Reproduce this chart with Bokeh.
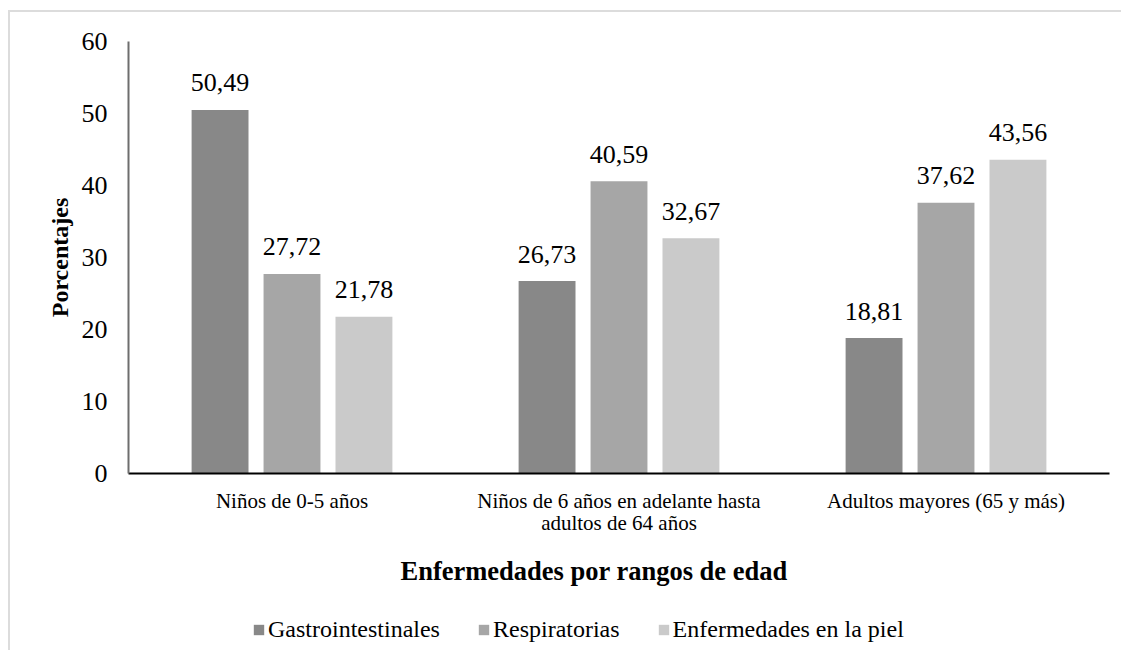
from bokeh.plotting import figure
from bokeh.layouts import column
from bokeh.models import (FactorRange, Range1d, SingleIntervalTicker, Legend, LegendItem,
                          ColumnDataSource, Title)
from bokeh.transform import dodge
from bokeh.core.properties import value
from bokeh.embed import file_html
from bokeh.resources import INLINE

categories = ["Niños de 0-5 años",
              "Niños de 6 años en adelante hasta\nadultos de 64 años",
              "Adultos mayores (65 y más)"]
series_names = ["Gastrointestinales", "Respiratorias", "Enfermedades en la piel"]
gastro = [50.49, 26.73, 18.81]
respir = [27.72, 40.59, 37.62]
piel = [21.78, 32.67, 43.56]
colors = ["#888888", "#a6a6a6", "#cacaca"]
offsets = [-0.22, 0.0, 0.22]

FONT = "Liberation Serif"

p = figure(width=1111, height=588, x_range=FactorRange(factors=categories, range_padding=0),
           y_range=Range1d(0, 60), output_backend="svg", toolbar_location=None,
           min_border_left=118, min_border_top=29, min_border_right=12, min_border_bottom=123)
p.outline_line_color = None
p.xgrid.grid_line_color = None
p.ygrid.grid_line_color = None

for name, vals, col, off in zip(series_names, [gastro, respir, piel], colors, offsets):
    src = ColumnDataSource(dict(cat=categories, val=vals,
                                lab=[f"{v:.2f}".replace(".", ",") for v in vals]))
    p.vbar(x=dodge("cat", off, range=p.x_range), top="val", width=0.174, source=src,
           fill_color=col, line_color=None)
    p.text(x=dodge("cat", off, range=p.x_range), y="val", text="lab", source=src,
           text_align="center", text_baseline="alphabetic", y_offset=-27,
           text_font=value(FONT), text_font_size="26px", text_color="#000000")

# y axis
p.yaxis.ticker = SingleIntervalTicker(interval=10)
p.yaxis.axis_line_color = "#6e6e6e"
p.yaxis.axis_line_width = 2
p.yaxis.major_tick_line_color = None
p.yaxis.minor_tick_line_color = None
p.yaxis.major_tick_out = 0
p.yaxis.major_tick_in = 0
p.yaxis.major_label_text_font = FONT
p.yaxis.major_label_text_font_size = "26px"
p.yaxis.major_label_text_color = "#000000"
p.yaxis.major_label_standoff = 17
p.yaxis.axis_label = "Porcentajes"
p.yaxis.axis_label_text_font = FONT
p.yaxis.axis_label_text_font_size = "24px"
p.yaxis.axis_label_text_font_style = "bold"
p.yaxis.axis_label_text_color = "#000000"
p.yaxis.axis_label_standoff = 6

# x axis
p.xaxis.axis_line_color = "#000000"
p.xaxis.axis_line_width = 2
p.xaxis.major_tick_line_color = None
p.xaxis.minor_tick_line_color = None
p.xaxis.major_tick_out = 0
p.xaxis.major_tick_in = 0
p.xaxis.major_label_text_font = FONT
p.xaxis.major_label_text_font_size = "21px"
p.xaxis.major_label_text_line_height = 0.95
p.xaxis.major_label_text_color = "#000000"
p.xaxis.major_label_standoff = 15

xtitle = Title(text="Enfermedades por rangos de edad", align="left", offset=272,
               text_font=FONT, text_font_size="26.5px", text_font_style="bold",
               text_color="#000000", standoff=30)
p.add_layout(xtitle, "below")

# legend strip below the chart (its glyph renderers have zero area, so only the legend shows)
q = figure(width=1111, height=50, output_backend="svg", toolbar_location=None,
           x_range=Range1d(0, 1), y_range=Range1d(0, 1),
           min_border=0, x_axis_type=None, y_axis_type=None)
q.outline_line_color = None
q.xgrid.grid_line_color = None
q.ygrid.grid_line_color = None
leg_renderers = [q.vbar(x=[0.5], top=[0], bottom=[0], width=0, fill_color=c, line_color=None)
                 for c in colors]
legend = Legend(items=[LegendItem(label=n, renderers=[r]) for n, r in zip(series_names, leg_renderers)],
                orientation="horizontal", location=(124, 7),
                label_text_font=FONT, label_text_font_size="24px", label_text_color="#000000",
                glyph_width=13, glyph_height=13, label_standoff=3, spacing=37,
                padding=0, margin=0, border_line_color=None, background_fill_alpha=0)
q.add_layout(legend, "center")

layout = column(p, q, spacing=0)
layout.styles = {"margin-left": "8px", "margin-top": "10px",
                 "border-top": "2px solid #dcdcdc", "border-left": "2px solid #dcdcdc"}

open("out.html", "w").write(file_html(layout, INLINE))
